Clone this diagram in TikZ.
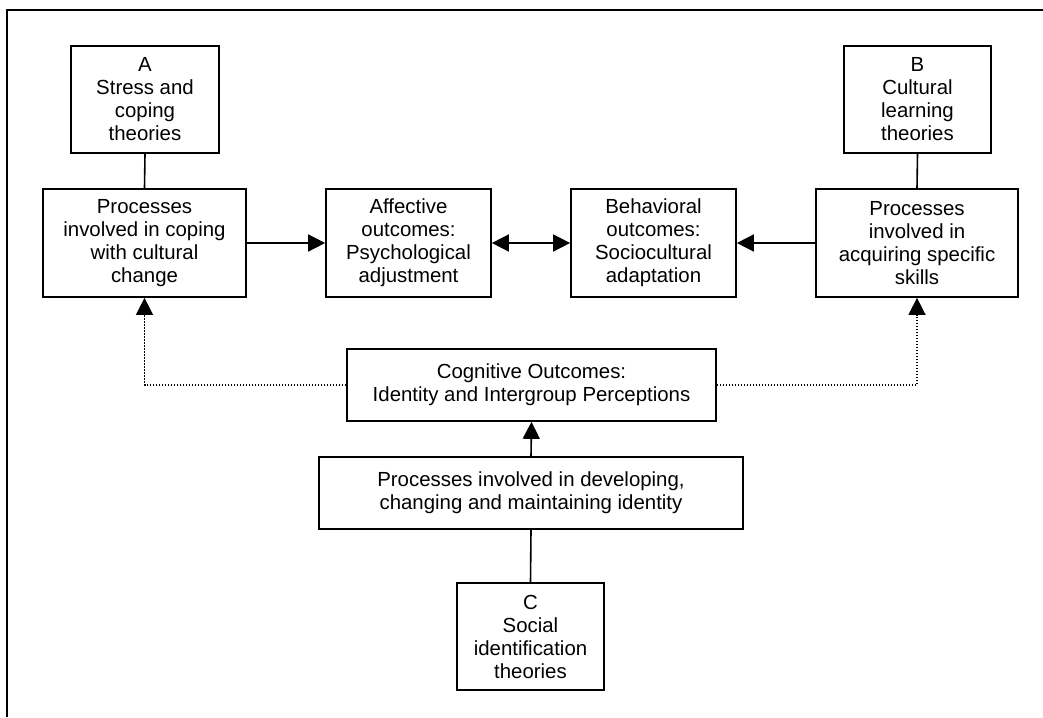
\documentclass[tikz,border=0pt]{standalone}
\usepackage{fontspec}
\setmainfont{Liberation Sans}
\usetikzlibrary{arrows.meta}
\begin{document}
\begin{tikzpicture}[x=1pt,y=-1pt,
  box/.style={draw, line width=1.7pt, inner sep=0pt, align=center,
    font=\fontsize{20.4}{23}\selectfont, anchor=center},
  conn/.style={line width=1.6pt},
  arr/.style={line width=1.6pt, -{Triangle[length=17pt,width=17pt]}},
  dots/.style={line width=1.4pt, dash pattern=on 1.4pt off 1.6pt, -{Triangle[length=17pt,width=17pt]}}]
\useasboundingbox (0,0) rectangle (1043,717);
\draw[line width=2.8pt] (7,717) -- (7,10) -- (1043,10);

\node[box, minimum width=148pt, minimum height=107pt] (A) at (145,99.5) {A\\Stress and\\coping\\theories};
\node[box, minimum width=147pt, minimum height=107pt] (B) at (917.5,99.5) {B\\Cultural\\learning\\theories};
\node[box, minimum width=203pt, minimum height=108pt] (P1) at (144.5,243) {Processes\\involved in coping\\with cultural\\change};
\node[box, minimum width=165pt, minimum height=108pt] (AF) at (408.5,243) {Affective\\outcomes:\\Psychological\\adjustment};
\node[box, minimum width=165pt, minimum height=108pt] (BE) at (653.5,243) {Behavioral\\outcomes:\\Sociocultural\\adaptation};
\node[box, minimum width=202pt, minimum height=108pt] (P2) at (917,243) {Processes\\involved in\\acquiring specific\\skills};
\node[box, minimum width=369pt, minimum height=72pt] (CO) at (531.5,385) {Cognitive Outcomes:\\Identity and Intergroup Perceptions};
\node[box, minimum width=424pt, minimum height=72pt] (PI) at (531,493) {Processes involved in developing,\\changing and maintaining identity};
\node[box, minimum width=147pt, minimum height=107pt] (C) at (530.5,636.5) {C\\Social\\identification\\theories};

\draw[conn] (A.south) -- (P1.north);
\draw[conn] (B.south) -- (P2.north);
\draw[arr] (P1.east) -- (AF.west);
\draw[line width=1.6pt, {Triangle[length=17pt,width=17pt]}-{Triangle[length=17pt,width=17pt]}] (AF.east) -- (BE.west);
\draw[arr] (P2.west) -- (BE.east);
\draw[arr] (PI.north) -- (CO.south);
\draw[conn] (C.north) -- (PI.south);
\draw[dots] (CO.west) -| (P1.south);
\draw[dots] (CO.east) -| (P2.south);
\end{tikzpicture}
\end{document}
